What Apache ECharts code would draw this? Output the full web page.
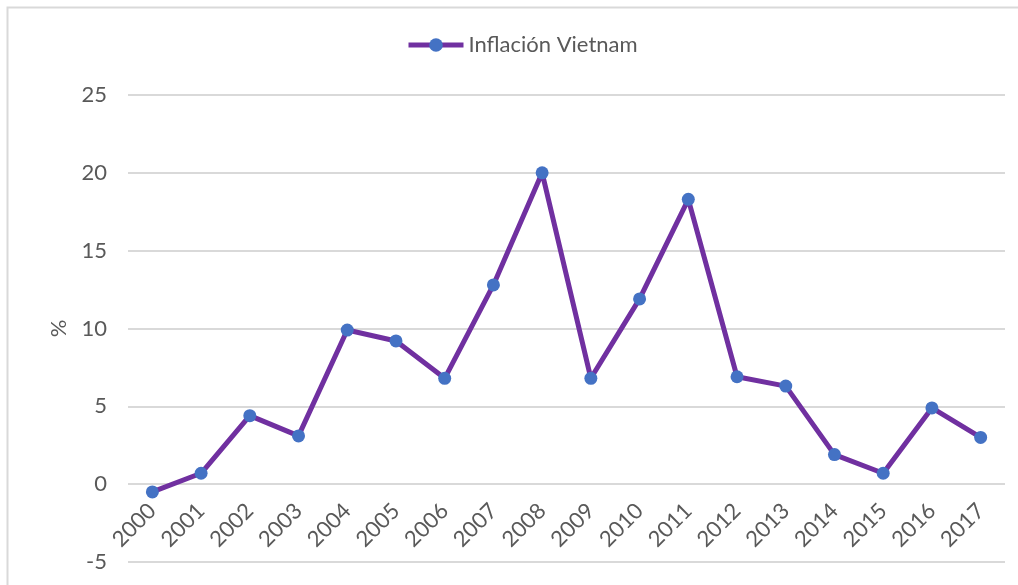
<!DOCTYPE html>
<html>
<head>
<meta charset="utf-8">
<title>Inflación Vietnam</title>
<script src="https://cdn.jsdelivr.net/npm/echarts@6/dist/echarts.min.js"></script>
<style>
  html, body { margin: 0; padding: 0; background: #ffffff; }
  #chart { width: 1018px; height: 585px; }
</style>
</head>
<body>
<div id="chart"></div>
<script>
// Annual inflation in Vietnam, percent
const years = ['2000', '2001', '2002', '2003', '2004', '2005', '2006', '2007', '2008',
               '2009', '2010', '2011', '2012', '2013', '2014', '2015', '2016', '2017'];
const inflation = [-0.5, 0.7, 4.4, 3.1, 9.9, 9.2, 6.8, 12.8, 20.0,
                   6.8, 11.9, 18.3, 6.9, 6.3, 1.9, 0.7, 4.9, 3.0];
const seriesName = 'Inflación Vietnam';
const yAxisTitle = '%';

const yMin = -5;
const yMax = 25;
const yStep = 5;

const textColor = '#595959';
const fontFamily = 'Lato, "Liberation Sans", sans-serif';

// plot area edges in pixels
const gridTop = 95;
const gridBottom = 23;
const chartHeight = 585;

// the category axis sits on the zero line of the value axis
const plotHeight = chartHeight - gridTop - gridBottom;
const zeroOffset = -plotHeight * (0 - yMin) / (yMax - yMin);

const chart = echarts.init(document.getElementById('chart'), null, { renderer: 'canvas' });

chart.setOption({
  backgroundColor: '#ffffff',
  animation: false,
  graphic: [{
    type: 'rect',
    shape: { x: 7.5, y: 7.5, width: 1100, height: 700 },
    style: { fill: 'none', stroke: '#d9d9d9', lineWidth: 2 },
    silent: true
  }],
  legend: {
    data: [seriesName],
    left: 401,
    top: 29,
    itemWidth: 55,
    itemHeight: 17,
    itemStyle: { color: '#4472c4' },
    lineStyle: { color: '#7030a0', width: 5 },
    textStyle: { color: textColor, fontSize: 22, fontFamily: fontFamily }
  },
  grid: {
    left: 128, right: 13, top: gridTop, bottom: gridBottom,
    containLabel: false,
    outerBoundsMode: 'none'
  },
  xAxis: {
    type: 'category',
    data: years,
    boundaryGap: true,
    position: 'bottom',
    offset: zeroOffset,
    axisLine: { show: false, onZero: false },
    axisTick: { show: false },
    axisLabel: {
      rotate: 45,
      margin: 23,
      interval: 0,
      color: textColor,
      fontSize: 22,
      fontFamily: fontFamily
    },
    splitLine: { show: false }
  },
  yAxis: {
    type: 'value',
    min: yMin,
    max: yMax,
    interval: yStep,
    name: yAxisTitle,
    nameLocation: 'middle',
    nameRotate: 90,
    nameGap: 58,
    nameTextStyle: { color: textColor, fontSize: 22, fontFamily: fontFamily },
    axisLine: { show: false },
    axisTick: { show: false },
    axisLabel: { margin: 21, color: textColor, fontSize: 22, fontFamily: fontFamily },
    splitLine: { lineStyle: { color: '#d9d9d9', width: 2 } }
  },
  series: [{
    name: seriesName,
    type: 'line',
    data: inflation,
    symbol: 'circle',
    symbolSize: 13,
    lineStyle: { color: '#7030a0', width: 5 },
    itemStyle: { color: '#4472c4', borderWidth: 0 },
    emphasis: { disabled: true }
  }]
});
</script>
</body>
</html>
